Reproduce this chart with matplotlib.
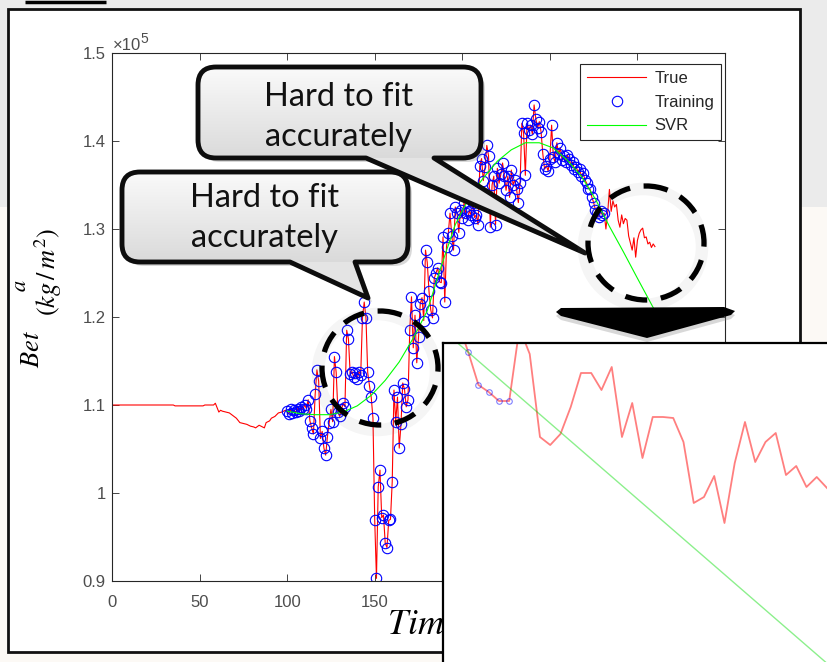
import numpy as np
import matplotlib.pyplot as plt
from matplotlib.path import Path
from matplotlib.patches import PathPatch, Ellipse, Polygon, Rectangle
from matplotlib.colors import LinearSegmentedColormap
from matplotlib.transforms import Affine2D

W, H = 827, 662

# ---- data (values in 1e5 kg/m^2) ----
pre_t = [0, 35, 36, 52, 53, 58, 59, 60, 61, 62, 63, 65, 67, 69, 71, 73, 75, 77, 79, 81,
         82, 84, 85, 87, 88, 90, 91, 93, 95, 97, 99]
pre_v = [1.100, 1.100, 1.099, 1.099, 1.100, 1.100, 1.102, 1.097, 1.092, 1.094, 1.093,
         1.092, 1.091, 1.088, 1.085, 1.080, 1.079, 1.078, 1.076, 1.075, 1.074, 1.077,
         1.076, 1.074, 1.080, 1.082, 1.085, 1.087, 1.091, 1.092, 1.094]

# training samples, one per day from t=100
train_v = [1.093, 1.090, 1.095, 1.091, 1.094, 1.092, 1.096, 1.093, 1.098, 1.095,
           1.100, 1.096, 1.106, 1.082, 1.074, 1.067, 1.112, 1.140, 1.127, 1.062,
           1.070, 1.051, 1.043, 1.064, 1.080, 1.095, 1.081, 1.155, 1.137, 1.092,
           1.087, 1.095, 1.102, 1.098, 1.185, 1.175, 1.135, 1.138, 1.132, 1.136,
           1.130, 1.138, 1.134, 1.199, 1.217, 1.199, 1.137, 1.122, 1.109, 1.085,
           0.969, 0.903, 1.007, 1.026, 0.972, 0.975, 0.943, 0.938, 0.969, 0.970,
           1.013, 1.117, 1.081, 1.109, 1.051, 1.078, 1.125, 1.118, 1.098, 1.106,
           1.185, 1.223, 1.165, 1.202, 1.148, 1.177, 1.215, 1.222, 1.196, 1.276,
           1.262, 1.229, 1.208, 1.199, 1.244, 1.250, 1.256, 1.240, 1.239, 1.291,
           1.217, 1.280, 1.295, 1.318, 1.292, 1.276, 1.325, 1.318, 1.296, 1.322,
           1.312, 1.330, 1.318, 1.310, 1.321, 1.316, 1.330, 1.313, 1.316, 1.305,
           1.372, 1.380, 1.355, 1.370, 1.395, 1.383, 1.302, 1.350, 1.360, 1.305,
           1.369, 1.352, 1.362, 1.375, 1.360, 1.344, 1.360, 1.336, 1.367, 1.350,
           1.356, 1.345, 1.330, 1.352, 1.420, 1.409, 1.361, 1.420, 1.412, 1.418,
           1.408, 1.441, 1.425, 1.415, 1.422, 1.410, 1.385, 1.368, 1.372, 1.366,
           1.380, 1.418, 1.382, 1.376, 1.398, 1.385, 1.392, 1.378, 1.383, 1.376,
           1.384, 1.380, 1.373, 1.376, 1.368, 1.371, 1.365, 1.368, 1.360, 1.364,
           1.356, 1.352, 1.346, 1.345, 1.336, 1.330, 1.322, 1.318, 1.314, 1.320,
           1.316, 1.318]

# untrained part of the true series
test_v = [1.300, 1.318, 1.345, 1.320, 1.332, 1.325, 1.328, 1.310, 1.302, 1.316,
          1.306, 1.312, 1.310, 1.292, 1.284, 1.276, 1.290, 1.268, 1.287, 1.295,
          1.299, 1.301, 1.290, 1.291, 1.283, 1.285, 1.279, 1.283, 1.280]

svr_t = [100, 108, 116, 124, 132, 140, 148, 156, 164, 172, 180, 188, 196, 204, 212,
         220, 228, 236, 244, 252, 260, 268, 276, 284, 292, 300, 310]
svr_v = [1.093, 1.090, 1.089, 1.089, 1.092, 1.099, 1.111, 1.128, 1.149, 1.176, 1.207,
         1.258, 1.305, 1.336, 1.358, 1.377, 1.390, 1.398, 1.398, 1.392, 1.378, 1.360,
         1.334, 1.303, 1.274, 1.244, 1.207]

# magnified view (starts at t=276)
inset_v = [1.3463, 1.3373, 1.3274, 1.3253, 1.3226, 1.3226, 1.3445, 1.3367, 1.3118,
           1.3094, 1.3127, 1.3208, 1.3310, 1.3310, 1.3259, 1.3328, 1.3118, 1.3220,
           1.3055, 1.3178, 1.3178, 1.3175, 1.3103, 1.2920, 1.2938, 1.3001, 1.2860,
           1.3040, 1.3163, 1.3043, 1.3103, 1.3130, 1.3004, 1.3031, 1.2968, 1.2998,
           1.2965]
inset_svr_t = [276, 312]
inset_svr_v = [1.3399, 1.2439]

xticks = [0, 50, 100, 150, 200, 250, 300, 350]
yticks = [0.9, 1.0, 1.1, 1.2, 1.3, 1.4, 1.5]
ytick_labels = ['0.9', '1', '1.1', '1.2', '1.3', '1.4', '1.5']

train_t = np.arange(100, 100 + len(train_v))
test_t = np.arange(train_t[-1] + 1, train_t[-1] + 1 + len(test_v))
true_t = np.concatenate([pre_t, train_t, test_t])
true_v = np.concatenate([pre_v, train_v, test_v])
inset_t = np.arange(276, 276 + len(inset_v))

plt.rcParams['font.family'] = ['Liberation Sans', 'DejaVu Sans']
plt.rcParams['mathtext.fontset'] = 'stix'


def rect(x0, y0, x1, y1):
    # pixel box (top-left origin) -> figure fraction
    return [x0 / W, 1 - y1 / H, (x1 - x0) / W, (y1 - y0) / H]


def bubble_path(x0, y0, x1, y1, r, ta, tb, tip):
    verts = [(x0 + r, y0), (x1 - r, y0), (x1, y0), (x1, y0 + r), (x1, y1 - r), (x1, y1),
             (x1 - r, y1), (tb, y1), tip, (ta, y1), (x0 + r, y1), (x0, y1), (x0, y1 - r),
             (x0, y0 + r), (x0, y0), (x0 + r, y0), (x0 + r, y0)]
    codes = [Path.MOVETO, Path.LINETO, Path.CURVE3, Path.CURVE3, Path.LINETO, Path.CURVE3,
             Path.CURVE3, Path.LINETO, Path.LINETO, Path.LINETO, Path.LINETO, Path.CURVE3,
             Path.CURVE3, Path.LINETO, Path.CURVE3, Path.CURVE3, Path.CLOSEPOLY]
    return Path(verts, codes)


fig = plt.figure(figsize=(W / 100, H / 100), dpi=100)
fig.patch.set_facecolor('#fcf9f5')

# background: slide colours + white frame
bg = fig.add_axes([0, 0, 1, 1], zorder=-5)
bg.set_xlim(0, W)
bg.set_ylim(H, 0)
bg.axis('off')
bg.add_patch(Rectangle((0, 0), W, 207, color='#ebebeb', lw=0))
bg.plot([25, 106], [1.5, 1.5], color='black', lw=2.5, solid_capstyle='butt')
bg.add_patch(Rectangle((8, 9), 792, 643, facecolor='white', edgecolor='#111111', lw=2))

# main chart
ax = fig.add_axes(rect(112, 53, 725, 581), zorder=0)
ax.plot(true_t, true_v, color='#ff0000', lw=0.8, label='True')
ax.plot(train_t, train_v, 'o', mfc='none', mec='#0000ff', ms=7.5, mew=0.8, label='Training')
ax.plot(svr_t, svr_v, color='#00ff00', lw=0.8, label='SVR')
ax.set_xlim(0, 350)
ax.set_ylim(0.9, 1.5)
ax.set_xticks(xticks)
ax.set_yticks(yticks)
ax.set_yticklabels(ytick_labels)
ax.tick_params(direction='in', length=5, width=0.6, top=True, right=True,
               labelsize=12, color='#262626', labelcolor='#4d4d4d')
ax.tick_params(axis='x', pad=10)
ax.tick_params(axis='y', pad=4.5)
for s in ax.spines.values():
    s.set_color('#262626')
    s.set_linewidth(0.8)
leg = ax.legend(loc='upper right', bbox_to_anchor=((721 - 112) / 613, (581 - 64) / 528),
                borderaxespad=0, fontsize=12, fancybox=False, edgecolor='#262626',
                framealpha=1, handlelength=3.5, handletextpad=0.5, labelspacing=0.52,
                borderpad=0.42)
leg.get_frame().set_linewidth(0.8)
for t in leg.get_texts():
    t.set_color('#262626')

# overlay with annotations in pixel coordinates
ov = fig.add_axes([0, 0, 1, 1], zorder=5)
ov.set_facecolor('none')
ov.axis('off')

ov.text(113, 50, '×10', fontsize=12, color='#4d4d4d')
ov.text(140, 43, '5', fontsize=10, color='#4d4d4d')

ov.text(32, 349, r'$Bet$', rotation=90, ha='center', va='center', fontsize=19)
ov.text(21, 286, r'$a$', rotation=90, ha='center', va='center', fontsize=16)
ov.text(48, 272, r'$(kg\,/\,m^2)$', rotation=90, ha='center', va='center', fontsize=19)
ov.text(387, 634, r'$Time$', ha='left', va='baseline', fontsize=26)

grad_cmap = LinearSegmentedColormap.from_list('g', ['#fafafa', '#dadada'])
grad = np.linspace(0, 1, 256).reshape(-1, 1)

bubbles = [
    (198, 67, 481, 158, 366, 434, (585, 253), (339, 117)),
    (122, 172, 408, 262, 290, 355, (368, 298), (265, 218)),
]
for i, (x0, y0, x1, y1, ta, tb, tip, (cx, cy)) in enumerate(bubbles):
    z = 2 + 5 * i
    p = bubble_path(x0, y0, x1, y1, 18, ta, tb, tip)
    ov.add_patch(PathPatch(p.transformed(Affine2D().translate(4, 4)),
                           facecolor='#808080', alpha=0.3, lw=0, zorder=z))
    base = PathPatch(p, facecolor='#e4e4e4', lw=0, zorder=z + 1)
    ov.add_patch(base)
    im = ov.imshow(grad, cmap=grad_cmap, extent=(x0, x1, y1, y0), origin='upper',
                   aspect='auto', interpolation='bilinear', zorder=z + 2)
    im.set_clip_path(base)
    ov.add_patch(PathPatch(p, fill=False, edgecolor='#0d0d0d', lw=3.5, joinstyle='round',
                           zorder=z + 3))
    ov.text(cx, cy, 'Hard to fit\naccurately', ha='center', va='center', fontsize=23.5,
            family=['Lato', 'DejaVu Sans'], linespacing=1.4, color='#111111', zorder=z + 4)

# dashed circles with soft shadow
for cx, cy in [(380, 368), (646, 243)]:
    ov.add_patch(Ellipse((cx - 3, cy + 4), 118, 116, fill=False, ec='#808080', lw=9,
                         alpha=0.08, zorder=20))
    ov.add_patch(Ellipse((cx, cy), 116, 114, fill=False, ec='#000000', lw=3.8,
                         linestyle=(0, (4.2, 2.6)), capstyle='butt', zorder=21))

# big arrow
arrow_pts = [(556, 312), (561, 308), (724, 307), (735, 311), (731, 315), (647, 338), (561, 316)]
ov.add_patch(Polygon([(x, y + 4) for x, y in arrow_pts], closed=True, fc='#808080',
                     alpha=0.3, lw=0, zorder=22))
ov.add_patch(Polygon(arrow_pts, closed=True, fc='black', lw=0, zorder=23))

ov.set_xlim(0, W)
ov.set_ylim(H, 0)

# magnified inset
ax_in = fig.add_axes(rect(443, 343, 840, 675), zorder=10)
ax_in.plot(inset_t, inset_v, color='#ff0000', alpha=0.5, lw=1.3)
ax_in.plot(inset_t[:6], inset_v[:6], 'o', mfc='none', mec='#0000ff', alpha=0.5, ms=4, mew=0.8)
ax_in.plot(inset_svr_t, inset_svr_v, color='#00dd00', alpha=0.45, lw=1)
ax_in.set_xlim(274.54, 313.27)
ax_in.set_ylim(1.2404, 1.340)
ax_in.set_xticks([])
ax_in.set_yticks([])
for s in ax_in.spines.values():
    s.set_color('black')
    s.set_linewidth(1.6)

fig.savefig('out.png', dpi=100)
